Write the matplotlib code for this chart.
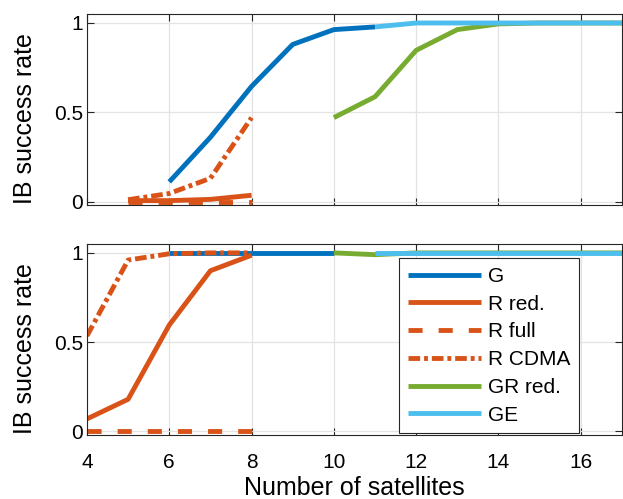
import matplotlib
matplotlib.use("Agg")
import matplotlib.pyplot as plt

plt.rcParams['font.family'] = ['Liberation Sans', 'DejaVu Sans']

# Top panel data
top_G_x = [6, 7, 8, 9, 10, 11]
top_G_y = [0.11, 0.36, 0.645, 0.88, 0.963, 0.978]
top_Rred_x = [5, 6, 7, 8]
top_Rred_y = [0.005, 0.005, 0.012, 0.035]
top_Rfull_x = [5, 6, 7, 8]
top_Rfull_y = [0.0, 0.0, 0.0, 0.0]
top_Rcdma_x = [5, 6, 7, 8]
top_Rcdma_y = [0.01, 0.045, 0.13, 0.47]
top_GR_x = [10, 11, 12, 13, 14, 15, 16, 17]
top_GR_y = [0.47, 0.587, 0.847, 0.963, 0.995, 1.0, 1.0, 1.0]
top_GE_x = [11, 12, 13, 14, 15, 16, 17]
top_GE_y = [0.978, 1.0, 1.0, 1.0, 1.0, 1.0, 1.0]

# Bottom panel data
bot_G_x = [6, 7, 8, 9, 10]
bot_G_y = [1.0, 1.0, 1.0, 1.0, 1.0]
bot_Rred_x = [4, 5, 6, 7, 8]
bot_Rred_y = [0.07, 0.18, 0.596, 0.90, 0.987]
bot_Rfull_x = [4, 5, 6, 7, 8]
bot_Rfull_y = [0.0, 0.0, 0.0, 0.0, 0.0]
bot_Rcdma_x = [4, 5, 6, 7, 8]
bot_Rcdma_y = [0.535, 0.96, 0.995, 1.0, 1.0]
bot_GR_x = [10, 11, 12, 13, 14, 15, 16, 17]
bot_GR_y = [1.0, 0.99, 1.0, 1.0, 1.0, 1.0, 1.0, 1.0]
bot_GE_x = [11, 12, 13, 14, 15, 16, 17]
bot_GE_y = [1.0, 1.0, 1.0, 1.0, 1.0, 1.0, 1.0]

labels = ['G', 'R red.', 'R full', 'R CDMA', 'GR red.', 'GE']
xticks = [4, 6, 8, 10, 12, 14, 16]
yticks = [0, 0.5, 1]
yticklabels = ['0', '0.5', '1']

cG = '#0072BD'
cR = '#D95319'
cGR = '#77AC30'
cGE = '#4DBEEE'
lw = 3.5
dash = (0, (2.9, 3.3))
dashdot = (0, (2.4, 0.8, 0.8, 0.8))

fig = plt.figure(figsize=(6.23, 4.99), dpi=100)
ax1 = fig.add_axes([0.1396, 0.589, 0.8587, 0.3828])
ax2 = fig.add_axes([0.1396, 0.1283, 0.8587, 0.3828])

def draw(ax, d):
    (gx, gy, rrx, rry, rfx, rfy, rcx, rcy, grx, gry, gex, gey) = d
    h = []
    h += ax.plot(gx, gy, color=cG, lw=lw, solid_capstyle='butt')
    h += ax.plot(rrx, rry, color=cR, lw=lw, solid_capstyle='butt')
    h += ax.plot(rfx, rfy, color=cR, lw=lw, linestyle=dash, dash_capstyle='butt')
    h += ax.plot(rcx, rcy, color=cR, lw=lw, linestyle=dashdot, dash_capstyle='butt')
    h += ax.plot(grx, gry, color=cGR, lw=lw, solid_capstyle='butt')
    h += ax.plot(gex, gey, color=cGE, lw=lw, solid_capstyle='butt')
    ax.set_xlim(4, 17)
    ax.set_ylim(-0.02, 1.05)
    ax.set_xticks(xticks)
    ax.set_yticks(yticks)
    ax.set_yticklabels(yticklabels)
    ax.grid(True, color='#e3e3e3', lw=0.9)
    ax.set_axisbelow(True)
    ax.tick_params(direction='in', top=True, right=True, labelsize=15,
                   length=5, width=0.8, color='#262626', labelcolor='#000000')
    ax.tick_params(axis='y', pad=3)
    ax.tick_params(axis='x', pad=13)
    for s in ax.spines.values():
        s.set_color('#262626')
        s.set_linewidth(0.8)
    ax.set_ylabel('IB success rate', fontsize=18)
    ax.yaxis.set_label_coords(-0.094, 0.455)
    return h

draw(ax1, (top_G_x, top_G_y, top_Rred_x, top_Rred_y, top_Rfull_x, top_Rfull_y,
           top_Rcdma_x, top_Rcdma_y, top_GR_x, top_GR_y, top_GE_x, top_GE_y))
ax1.tick_params(labelbottom=False)
h = draw(ax2, (bot_G_x, bot_G_y, bot_Rred_x, bot_Rred_y, bot_Rfull_x, bot_Rfull_y,
               bot_Rcdma_x, bot_Rcdma_y, bot_GR_x, bot_GR_y, bot_GE_x, bot_GE_y))
ax2.set_xlabel('Number of satellites', fontsize=18, labelpad=3)

leg = ax2.legend(h, labels, loc='lower right', bbox_to_anchor=(0.92, 0.008),
                 fontsize=15, frameon=True, fancybox=False, framealpha=1,
                 edgecolor='#262626', handlelength=3.5, handletextpad=0.35,
                 labelspacing=0.42, borderpad=0.42, borderaxespad=0.0)
leg.get_frame().set_linewidth(0.8)

fig.savefig('out.png', dpi=100)
